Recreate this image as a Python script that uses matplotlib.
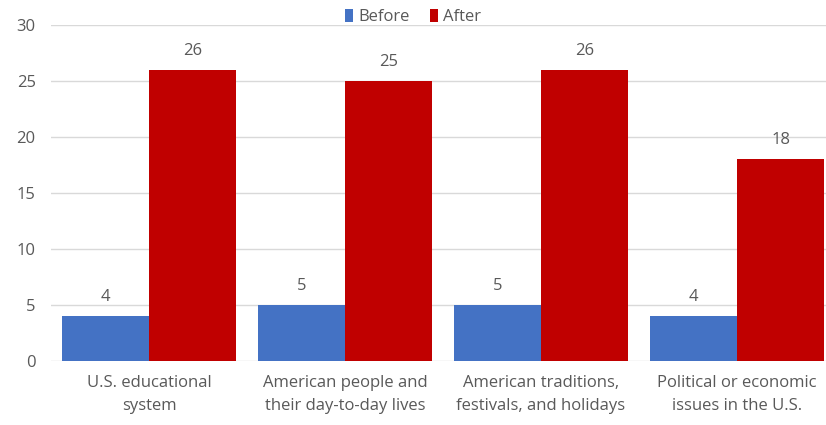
import numpy as np
import matplotlib.pyplot as plt

categories = ["U.S. educational\nsystem",
              "American people and\ntheir day-to-day lives",
              "American traditions,\nfestivals, and holidays",
              "Political or economic\nissues in the U.S."]
before = [4, 5, 5, 4]
after = [26, 25, 26, 18]

plt.rcParams['font.family'] = ['Open Sans', 'DejaVu Sans']
text_color = '#595959'

fig = plt.figure(figsize=(8.26, 4.25), dpi=100)
# axes runs slightly past the right edge, as the gridlines do
ax = fig.add_axes([51 / 826, 1 - 361 / 425, 784 / 826, 336 / 425])

x = np.arange(len(categories))
w = 0.445
b1 = ax.bar(x - w / 2, before, w, color='#4472C4', label='Before', zorder=3)
b2 = ax.bar(x + w / 2, after, w, color='#C00000', label='After', zorder=3)

for bars in (b1, b2):
    for rect in bars:
        h = rect.get_height()
        ax.annotate(f"{h:g}", (rect.get_x() + rect.get_width() / 2, h),
                    xytext=(0, 8), textcoords='offset points',
                    ha='center', va='bottom', fontsize=12, color=text_color)

ax.set_xlim(-0.5, len(categories) - 0.5)
ax.set_ylim(0, 30)
ax.set_yticks(range(0, 31, 5))
ax.set_xticks(x)
ax.set_xticklabels(categories, fontsize=12, color=text_color, linespacing=1.6)
ax.tick_params(axis='y', labelsize=12, labelcolor=text_color, length=0, pad=11)
ax.tick_params(axis='x', length=0, pad=10)
ax.grid(axis='y', color='#d9d9d9', linewidth=1, zorder=0)
for s in ax.spines.values():
    s.set_visible(False)

fig.legend(loc='center', bbox_to_anchor=(413 / 826, 1 - 17 / 425), ncol=2,
           frameon=False, fontsize=12, labelcolor=text_color,
           handlelength=0.5, handleheight=0.8, handletextpad=0.3,
           columnspacing=1.2)

fig.savefig('out.png', dpi=100)
